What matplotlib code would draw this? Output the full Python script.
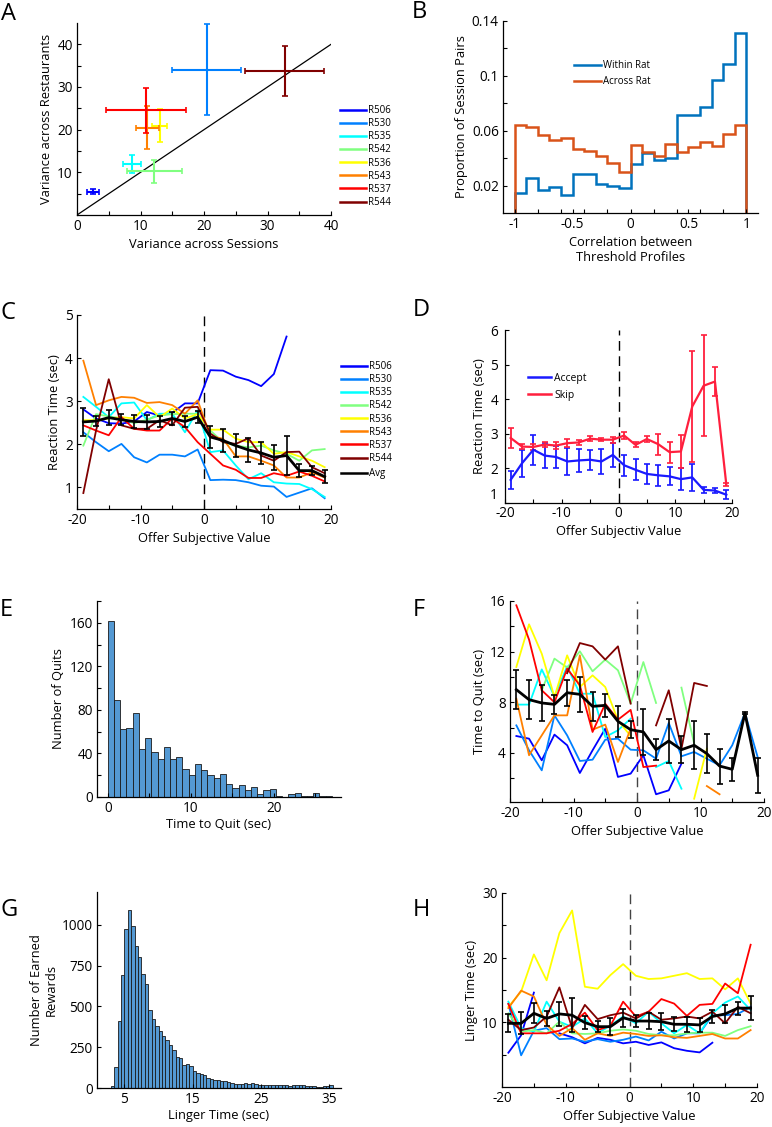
import numpy as np
import matplotlib
matplotlib.use('Agg')
from matplotlib import pyplot as plt
from matplotlib.lines import Line2D

plt.rcParams['font.family'] = ['Open Sans', 'DejaVu Sans']
plt.rcParams['axes.unicode_minus'] = False

nan = np.nan

# Rats and their jet colours
rats = ['R506', 'R530', 'R535', 'R542', 'R536', 'R543', 'R537', 'R544']
rat_colors = ['#0000ff', '#0080ff', '#00ffff', '#80ff80',
              '#ffff00', '#ff8000', '#ff0000', '#800000']

# Panel A: variance across sessions vs restaurants
a_x = [2.5, 20.4, 8.7, 12.2, 13.0, 11.1, 10.8, 32.7]
a_xerr = [1.0, 5.5, 1.4, 4.3, 1.2, 1.8, 6.3, 6.2]
a_y = [5.5, 34.1, 11.9, 10.2, 20.9, 20.5, 24.5, 33.8]
a_yerr = [0.6, 10.7, 2.1, 2.6, 3.9, 5.1, 5.2, 5.8]

# Panel B: correlation histograms
b_edges = [-1.0, -0.9, -0.8, -0.7, -0.6, -0.5, -0.4, -0.3, -0.2, -0.1, 0.0,
           0.1, 0.2, 0.3, 0.4, 0.5, 0.6, 0.7, 0.8, 0.9, 1.0]
b_within = [0.0145, 0.0253, 0.0169, 0.0186, 0.0128, 0.0284, 0.0284, 0.0214,
            0.0198, 0.0183, 0.0354, 0.0436, 0.0383, 0.0398, 0.0711, 0.0711,
            0.0771, 0.0969, 0.1084, 0.131]
b_across = [0.0643, 0.0627, 0.0566, 0.0530, 0.0549, 0.0467, 0.0453, 0.0414,
            0.0361, 0.0299, 0.0494, 0.0443, 0.0419, 0.0506, 0.0448, 0.0482,
            0.0516, 0.0492, 0.0576, 0.0639]

offer_sv = [-19, -17, -15, -13, -11, -9, -7, -5, -3, -1,
            1, 3, 5, 7, 9, 11, 13, 15, 17, 19]

# Panel C: reaction time per rat
c_rt = [
    [2.81, 2.60, 2.49, 2.48, 2.53, 2.75, 2.67, 2.73, 2.95, 2.95,
     3.72, 3.71, 3.57, 3.49, 3.35, 3.63, 4.50, nan, nan, nan],
    [2.28, 2.05, 1.84, 2.01, 1.70, 1.58, 1.76, 1.76, 1.72, 1.88,
     1.17, 1.18, 1.17, 1.12, 1.04, 1.02, 0.78, 0.88, 0.98, 0.75],
    [3.10, 2.87, 2.63, 2.95, 2.97, 2.56, 2.71, 2.71, 2.28, 2.79,
     1.82, 1.86, 1.51, 1.19, 1.33, 1.12, 1.09, 1.08, 0.96, 0.78],
    [1.97, 2.70, 2.65, 2.60, 2.49, 2.57, 2.67, 2.70, 2.71, 2.71,
     2.32, 2.05, 1.97, 1.93, 1.97, 1.86, 1.78, 1.62, 1.86, 1.89],
    [2.56, 2.56, 2.60, 2.63, 2.60, 2.91, 2.63, 2.83, 2.60, 2.70,
     2.34, 2.34, 2.13, 2.05, 2.05, 1.78, 1.82, 1.72, 1.62, 1.47],
    [3.94, 2.91, 3.02, 3.10, 3.08, 2.96, 2.98, 2.91, 2.71, 3.02,
     2.19, 2.13, 1.72, 1.72, 1.62, 1.51, 1.23, 1.23, 1.35, 1.23],
    [2.44, 2.32, 2.21, 2.63, 2.36, 2.32, 2.32, 2.60, 2.40, 2.05,
     1.78, 1.51, 1.41, 1.22, 1.22, 1.33, 1.27, 1.37, 1.27, 1.14],
    [0.87, 2.32, 3.51, 2.44, 2.36, 2.36, 2.56, 2.44, 2.85, 2.87,
     2.25, 2.05, 2.01, 2.14, 1.74, 1.62, 1.82, 1.83, 1.47, 1.33],
]
c_avg = [2.52, 2.54, 2.62, 2.57, 2.53, 2.52, 2.53, 2.60, 2.53, 2.63,
         2.17, 2.09, 1.97, 1.87, 1.80, 1.70, 1.74, 1.39, 1.39, 1.25]
c_err = [0.32, 0.12, 0.18, 0.13, 0.15, 0.16, 0.13, 0.14, 0.12, 0.14,
         0.25, 0.26, 0.26, 0.27, 0.25, 0.29, 0.45, 0.15, 0.10, 0.15]

# Panel D: accept vs skip reaction time
d_skip = [2.88, 2.63, 2.62, 2.69, 2.66, 2.73, 2.75, 2.86, 2.83, 2.83,
          2.95, 2.68, 2.85, 2.70, 2.47, 2.49, 3.79, 4.39, 4.51, 1.53]
d_skip_err = [0.29, 0.07, 0.08, 0.07, 0.10, 0.11, 0.08, 0.07, 0.05, 0.09,
              0.10, 0.07, 0.09, 0.30, 0.30, 0.47, 1.61, 1.46, 0.41, 0.04]
d_accept = [1.67, 2.15, 2.54, 2.37, 2.33, 2.20, 2.23, 2.25, 2.20, 2.39,
            2.09, 1.96, 1.84, 1.80, 1.77, 1.69, 1.74, 1.38, 1.36, 1.24]
d_accept_err = [0.26, 0.39, 0.43, 0.37, 0.31, 0.38, 0.33, 0.29, 0.36, 0.34,
                0.30, 0.30, 0.28, 0.30, 0.26, 0.31, 0.40, 0.09, 0.08, 0.13]

# Panel E: time to quit histogram (bin width 0.75 s)
e_edges = [0.0, 0.75, 1.5, 2.25, 3.0, 3.75, 4.5, 5.25, 6.0, 6.75, 7.5, 8.25,
           9.0, 9.75, 10.5, 11.25, 12.0, 12.75, 13.5, 14.25, 15.0, 15.75,
           16.5, 17.25, 18.0, 18.75, 19.5, 20.25, 21.0, 21.75, 22.5, 23.25,
           24.0, 24.75, 25.5, 26.25, 27.0]
e_counts = [162, 89, 62, 63, 77, 44, 54, 41, 35, 46, 35, 37, 26, 20, 30, 25,
            20, 17, 21, 12, 8, 11, 6, 9, 3, 6, 7, 1, 0, 3, 4, 1, 1, 4, 1, 1]

# Panel F: time to quit per rat
f_tq = [
    [5.34, 5.13, 3.42, 5.45, 4.61, 2.42, 4.21, 5.92, 2.11, 2.37,
     3.82, 0.74, 1.05, 3.16, nan, nan, nan, nan, nan, nan],
    [6.18, 4.21, 2.63, 6.97, 5.39, 3.37, 3.47, 5.05, 5.13, 4.26,
     4.21, 3.55, 6.37, 3.74, 4.08, 3.55, 3.03, 4.61, 7.16, 3.68],
    [7.82, 7.82, 10.6, 8.47, 10.84, 8.68, 8.68, 5.26, 5.79, 6.71,
     nan, 2.89, 3.37, 1.18, nan, nan, nan, nan, nan, nan],
    [nan, nan, 8.95, 11.45, 10.74, 12.03, 10.45, 11.37, 10.53, 7.9,
     11.18, 7.95, nan, 9.16, 4.74, nan, nan, nan, nan, nan],
    [10.79, 14.16, 11.84, 8.42, 11.71, 9.21, 10.13, 9.21, 6.58, 5.34,
     nan, nan, nan, nan, 0.39, 4.34, nan, nan, nan, nan],
    [8.29, 3.82, 5.39, 6.97, 6.97, 11.71, 5.84, 6.24, 3.29, 5.92,
     nan, nan, nan, nan, nan, 1.39, 0.74, nan, nan, nan],
    [15.66, 12.95, 8.95, 8.0, 10.66, 9.34, 5.66, 7.89, 6.63, 7.4,
     2.89, 3.0, nan, nan, nan, nan, nan, nan, nan, nan],
    [nan, nan, nan, nan, 10.3, 12.68, 12.42, 11.37, 12.42, 7.9,
     nan, 6.18, 8.95, 4.34, 9.53, 9.29, nan, nan, nan, nan],
]
f_avg = [9.0, 8.21, 7.95, 7.84, 8.76, 8.63, 7.68, 7.76, 6.5, 5.84,
         5.66, 4.26, 4.95, 4.26, 4.61, 3.95, 2.97, 2.71, 7.16, 2.24]
f_err = [1.55, 1.54, 1.42, 0.75, 1.04, 1.36, 1.16, 0.92, 1.22, 0.68,
         1.84, 0.82, 1.71, 1.05, 1.9, 1.53, 1.38, 0.89, 0.05, 1.37]

# Panel G: linger time histogram (bin width 0.5 s)
g_start = 3.0
g_width = 0.5
g_counts = [14, 129, 408, 694, 973, 1088, 994, 871, 800, 698, 639, 480, 422,
            378, 351, 316, 296, 265, 235, 190, 184, 143, 147, 133, 102, 92,
            86, 82, 61, 57, 51, 47, 45, 41, 35, 31, 27, 27, 24, 29, 27, 31,
            24, 20, 18, 16, 18, 20, 18, 16, 18, 16, 14, 16, 18, 16, 16, 14,
            12, 12, 8, 6, 10, 10, 16]

# Panel H: linger time per rat
h_lt = [
    [5.3, 8.0, 14.6, nan, 8.3, 7.7, 6.75, 7.6, 7.3, 6.75,
     7.0, 6.5, 6.9, 6.0, 5.6, 5.35, 6.85, nan, nan, nan],
    [12.9, 4.9, 8.7, 9.1, 7.4, 7.5, 7.0, 7.4, 7.0, 7.3,
     7.8, 7.2, 8.55, 7.5, 8.3, 8.3, 11.1, 11.1, 11.3, 12.4],
    [13.2, 9.1, 8.55, 13.2, 10.1, 9.3, 10.6, 8.3, 9.5, 10.9,
     9.85, 11.65, 9.85, 8.3, 9.6, 8.3, 11.4, 13.05, 14.0, 11.9],
    [11.4, 8.55, 8.8, 8.3, 10.1, 8.3, 8.2, 8.3, 8.7, 8.9,
     8.7, 8.2, 8.0, 8.0, 8.3, 8.4, 8.4, 7.9, 8.8, 9.4],
    [12.4, 14.75, 20.5, 16.5, 23.8, 27.3, 15.5, 15.2, 17.3, 19.0,
     17.2, 16.7, 16.8, 17.2, 17.6, 16.7, 16.8, 15.1, 16.8, 12.9],
    [12.2, 14.9, 14.0, 9.6, 7.9, 9.1, 7.3, 8.3, 7.9, 8.4,
     8.2, 7.9, 8.0, 7.7, 7.6, 7.9, 8.2, 7.5, 7.5, 8.8],
    [12.85, 8.3, 8.3, 8.3, 8.7, 9.75, 11.5, 8.8, 9.45, 13.2,
     10.9, 11.65, 13.6, 12.9, 11.0, 12.7, 12.85, 16.0, 14.5, 22.0],
    [10.4, 8.8, 9.2, 10.9, 15.4, 9.1, 12.7, 10.5, 11.1, 11.5,
     10.6, 11.65, 10.4, 10.6, 10.9, 10.6, 11.65, 9.85, 12.4, 11.4],
]
h_avg = [9.84, 9.84, 11.4, 10.6, 11.3, 11.1, 9.95, 9.33, 9.33, 10.7,
         10.2, 10.2, 10.1, 9.7, 9.7, 9.6, 10.9, 11.3, 12.2, 12.2]
h_err = [1.4, 1.7, 1.55, 1.2, 1.9, 2.6, 1.0, 0.8, 1.3, 1.35,
         0.9, 1.2, 1.3, 1.1, 1.15, 1.1, 1.0, 1.4, 1.0, 1.8]

W, H = 772, 1127
TICK_FS = 9.8
LABEL_FS = 9.3


def pos(l, r, t, b):
    return [l / W, 1 - b / H, (r - l) / W, (b - t) / H]


def style(ax, xmaj, ymaj, xmin=None, ymin=None, xlab=None, ylab=None):
    for s in ['top', 'right']:
        ax.spines[s].set_visible(False)
    for s in ['left', 'bottom']:
        ax.spines[s].set_linewidth(0.9)
    ax.set_xticks(xmaj)
    ax.set_yticks(ymaj)
    if xmin is not None:
        ax.set_xticks(xmin, minor=True)
    if ymin is not None:
        ax.set_yticks(ymin, minor=True)
    ax.tick_params(which='both', direction='in', length=3, width=0.8,
                   labelsize=TICK_FS, pad=3)
    if xlab:
        ax.set_xlabel(xlab, fontsize=LABEL_FS, labelpad=3)
    if ylab:
        ax.set_ylabel(ylab, fontsize=LABEL_FS, labelpad=3)


fig = plt.figure(figsize=(W / 100, H / 100), dpi=100)

# ---------- A ----------
ax = fig.add_axes(pos(77, 331, 23, 215))
ax.plot([0, 40], [0, 40], color='k', lw=0.9)
for i in range(len(rats)):
    ax.errorbar(a_x[i], a_y[i], xerr=a_xerr[i], yerr=a_yerr[i],
                color=rat_colors[i], lw=1.5, capsize=2, capthick=1.2)
ax.set_xlim(0, 40)
ax.set_ylim(0, 45)
style(ax, [0, 10, 20, 30, 40], [10, 20, 30, 40], [5, 15, 25, 35],
      [5, 15, 25, 35], 'Variance across Sessions', 'Variance across Restaurants')
handles = [Line2D([], [], color=c, lw=1.8) for c in rat_colors]
fig.legend(handles, rats, loc='upper left',
           bbox_to_anchor=(340 / W, 1 - 105 / H), frameon=False, fontsize=7,
           handlelength=2.7, handletextpad=0.15, labelspacing=0.22,
           borderpad=0, borderaxespad=0)

# ---------- B ----------
ax = fig.add_axes(pos(503, 758, 21, 213))
ax.stairs(b_within, b_edges, baseline=0, color='#0072bd', lw=1.8,
          label='Within Rat')
ax.stairs(b_across, b_edges, baseline=0, color='#d95319', lw=1.8,
          label='Across Rat')
ax.set_xlim(-1.1, 1.1)
ax.set_ylim(0, 0.14)
style(ax, [-1, -0.5, 0, 0.5, 1], [0.02, 0.06, 0.1, 0.14],
      [-0.8, -0.6, -0.4, -0.2, 0.2, 0.4, 0.6, 0.8], [0.04, 0.08, 0.12],
      'Correlation between\nThreshold Profiles', 'Proportion of Session Pairs')
ax.set_xticklabels(['-1', '-0.5', '0', '0.5', '1'])
ax.set_yticklabels(['0.02', '0.06', '0.1', '0.14'])
ax.legend(loc='upper left', bbox_to_anchor=(574 / W, 1 - 60 / H),
          bbox_transform=fig.transFigure, frameon=False, fontsize=7,
          handlelength=2.8, handletextpad=0.2, labelspacing=0.55,
          borderpad=0, borderaxespad=0)

# ---------- C ----------
ax = fig.add_axes(pos(77, 331, 315, 509))
ax.plot([0, 0], [0.5, 5], color='k', lw=1, ls=(0, (7, 4)))
for i in range(len(rats)):
    ax.plot(offer_sv, c_rt[i], color=rat_colors[i], lw=1.3)
ax.errorbar(offer_sv, c_avg, yerr=c_err, color='k', lw=2, elinewidth=1.2,
            capsize=2.2, capthick=1.2)
ax.set_xlim(-20, 20)
ax.set_ylim(0.5, 5)
style(ax, [-20, -10, 0, 10, 20], [1, 2, 3, 4, 5], [-15, -5, 5, 15], None,
      'Offer Subjective Value', 'Reaction Time (sec)')
handles = [Line2D([], [], color=c, lw=1.8) for c in rat_colors]
leg = ax.legend(handles, rats, loc='upper left',
                bbox_to_anchor=(341 / W, 1 - 361 / H),
                bbox_transform=fig.transFigure, frameon=False, fontsize=7,
                handlelength=2.7, handletextpad=0.15, labelspacing=0.22,
                borderpad=0, borderaxespad=0)
ax.add_artist(leg)
ax.legend([Line2D([], [], color='k', lw=1.8)], ['Avg'], loc='upper left',
          bbox_to_anchor=(341 / W, 1 - 468 / H),
          bbox_transform=fig.transFigure, frameon=False, fontsize=7,
          handlelength=2.7, handletextpad=0.15, borderpad=0, borderaxespad=0)

# ---------- D ----------
ax = fig.add_axes(pos(505, 732, 330, 503))
ax.plot([0, 0], [1, 6], color='k', lw=1, ls=(0, (7, 4)))
ax.errorbar(offer_sv, d_accept, yerr=d_accept_err, color='#1a1aff', lw=1.6,
            elinewidth=1.3, capsize=2, capthick=1.2, label='Accept')
ax.errorbar(offer_sv, d_skip, yerr=d_skip_err, color='#ff1f3d', lw=1.6,
            elinewidth=1.3, capsize=2, capthick=1.2, label='Skip')
ax.set_xlim(-20, 20)
ax.set_ylim(1, 6)
style(ax, [-20, -10, 0, 10, 20], [1, 2, 3, 4, 5, 6], [-15, -5, 5, 15], None,
      'Offer Subjectiv Value', 'Reaction Time (sec)')
ax.tick_params(axis='x', pad=2)
ax.tick_params(axis='y', pad=5)
# lift the bottom "1" a little so it clears the "-20" below it
ax.get_yticklabels()[0].set_va('bottom')
h, l = ax.get_legend_handles_labels()
ax.legend([Line2D([], [], color='#1a1aff', lw=1.8),
           Line2D([], [], color='#ff1f3d', lw=1.8)], l, loc='upper left',
          bbox_to_anchor=(528 / W, 1 - 373 / H),
          bbox_transform=fig.transFigure, frameon=False, fontsize=7.5,
          handlelength=2.2, handletextpad=0.3, labelspacing=0.55,
          borderpad=0, borderaxespad=0)

# ---------- E ----------
ax = fig.add_axes(pos(97, 341, 601, 797))
ax.bar(e_edges[:-1], e_counts, width=0.75, align='edge', color='#5499d3',
       edgecolor='#1a1a1a', lw=0.6)
ax.set_xlim(-1.3, 28.1)
ax.set_ylim(0, 180)
style(ax, [0, 10, 20], [0, 40, 80, 120, 160], [5, 15, 25],
      [20, 60, 100, 140, 180], 'Time to Quit (sec)', 'Number of Quits')
ax.xaxis.labelpad = 1

# ---------- F ----------
ax = fig.add_axes(pos(510, 764, 601, 802))
ax.plot([0, 0], [0.13, 16], color='#444444', lw=1, ls=(0, (7, 4)))
for i in range(len(rats)):
    ax.plot(offer_sv, f_tq[i], color=rat_colors[i], lw=1.3)
ax.errorbar(offer_sv, f_avg, yerr=f_err, color='k', lw=2, elinewidth=1.2,
            capsize=2.2, capthick=1.2)
ax.set_xlim(-20, 20)
ax.set_ylim(0.13, 16)
style(ax, [-20, -10, 0, 10, 20], [4, 8, 12, 16], [-15, -5, 5, 15],
      [2, 6, 10, 14], 'Offer Subjective Value', 'Time to Quit (sec)')

# ---------- G ----------
ax = fig.add_axes(pos(97, 341, 892, 1088))
g_left = [g_start + g_width * k for k in range(len(g_counts))]
ax.bar(g_left, g_counts, width=g_width, align='edge', color='#5499d3',
       edgecolor='#1a1a1a', lw=0.6)
ax.set_xlim(1, 36.7)
ax.set_ylim(0, 1200)
style(ax, [5, 15, 25, 35], [0, 250, 500, 750, 1000], None, None,
      'Linger Time (sec)', 'Number of Earned\nRewards')
ax.yaxis.label.set_multialignment('center')
ax.xaxis.labelpad = 1

# ---------- H ----------
ax = fig.add_axes(pos(502, 757, 893, 1087))
ax.plot([0, 0], [0, 30], color='#444444', lw=1, ls=(0, (7, 4)))
for i in range(len(rats)):
    ax.plot(offer_sv, h_lt[i], color=rat_colors[i], lw=1.3)
ax.errorbar(offer_sv, h_avg, yerr=h_err, color='k', lw=2, elinewidth=1.2,
            capsize=2.2, capthick=1.2)
ax.set_xlim(-20, 20)
ax.set_ylim(0, 30)
style(ax, [-20, -10, 0, 10, 20], [10, 20, 30], [-15, -5, 5, 15],
      [5, 15, 25], 'Offer Subjective Value', 'Linger Time (sec)')

# panel letters
letters = [('A', 1, 14), ('B', 412, 12), ('C', 0, 313), ('D', 413, 310),
           ('E', 0, 610), ('F', 413, 610), ('G', 0, 910), ('H', 413, 910)]
for s, x, y in letters:
    fig.text(x / W, 1 - y / H, s, fontsize=17, va='center', ha='left')

fig.savefig('out.png', dpi=100)
